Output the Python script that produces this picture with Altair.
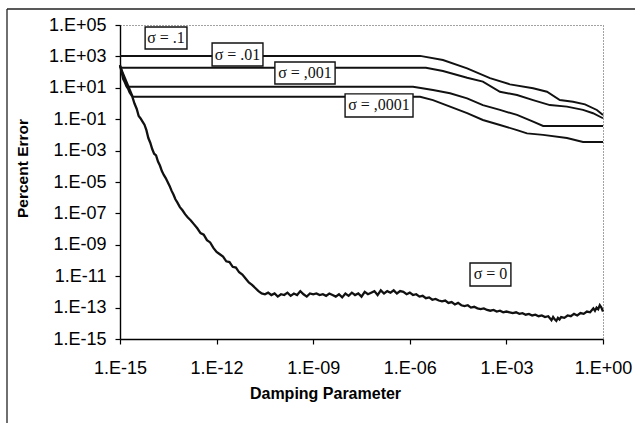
import altair as alt
import pandas as pd

# ---- data: log10(damping parameter) and log10(percent error) ----
s01_x = [-15.0, -5.68, -4.97, -4.22, -3.51, -2.89, -2.17, -1.74, -1.34, -0.93, -0.56, -0.19, 0.0]
s01_y = [3.03, 3.03, 2.77, 2.24, 1.61, 1.22, 0.97, 0.75, 0.22, 0.11, -0.05, -0.41, -0.73]

s001_x = [-15.0, -5.5, -4.97, -4.22, -3.73, -3.2, -2.67, -2.17, -1.65, -1.12, -0.62, -0.31, 0.0]
s001_y = [2.28, 2.28, 2.07, 1.64, 1.39, 0.75, 0.54, 0.22, -0.10, -0.20, -0.41, -0.62, -0.94]

s0001_x = [-15.0, -14.78, -5.9, -5.28, -4.75, -4.22, -3.73, -3.2, -2.67, -2.17, -1.86, 0.0]
s0001_y = [2.4, 1.07, 1.07, 0.86, 0.65, 0.33, -0.10, -0.41, -0.73, -1.16, -1.43, -1.43]

s00001_x = [-15.0, -14.6, -5.68, -5.28, -4.75, -4.22, -3.73, -3.2, -2.67, -2.36, -1.86, -1.12, -0.62, 0.0]
s00001_y = [2.4, 0.43, 0.43, 0.22, -0.20, -0.62, -1.05, -1.37, -1.69, -1.9, -2.0, -2.2, -2.45, -2.45]

s0_x = [-15.00, -14.95, -14.90, -14.85, -14.80, -14.75, -14.70, -14.62, -14.55, -14.48,
        -14.42, -14.36, -14.30, -14.24, -14.18, -14.12, -14.06, -14.00, -13.94, -13.88,
        -13.82, -13.76, -13.70, -13.64, -13.58, -13.52, -13.46, -13.40, -13.34, -13.28,
        -13.22, -13.14, -13.06, -12.98, -12.90, -12.80, -12.70, -12.60, -12.50, -12.40,
        -12.30, -12.20, -12.10, -12.00, -11.90, -11.80, -11.70, -11.60, -11.50, -11.40,
        -11.30, -11.20, -11.10, -11.00, -10.90, -10.80, -10.70, -10.60, -10.50, -10.40,
        -10.30, -10.20, -10.10, -10.00, -9.90, -9.80, -9.70, -9.60, -9.50, -9.40,
        -9.30, -9.20, -9.10, -9.00, -8.90, -8.80, -8.70, -8.60, -8.50, -8.40,
        -8.30, -8.20, -8.10, -8.00, -7.90, -7.80, -7.70, -7.60, -7.50, -7.40,
        -7.30, -7.20, -7.10, -7.00, -6.90, -6.80, -6.70, -6.60, -6.50, -6.40,
        -6.30, -6.20, -6.10, -6.00, -5.90, -5.80, -5.70, -5.60, -5.50, -5.40,
        -5.30, -5.20, -5.10, -5.00, -4.90, -4.80, -4.70, -4.60, -4.50, -4.40,
        -4.30, -4.20, -4.10, -4.00, -3.90, -3.80, -3.70, -3.60, -3.50, -3.40,
        -3.30, -3.20, -3.10, -3.00, -2.90, -2.80, -2.70, -2.60, -2.50, -2.40,
        -2.30, -2.20, -2.10, -2.00, -1.90, -1.80, -1.70, -1.60, -1.55, -1.50,
        -1.45, -1.40, -1.35, -1.30, -1.20, -1.10, -1.00, -0.90, -0.80, -0.70,
        -0.60, -0.50, -0.40, -0.30, -0.25, -0.20, -0.15, -0.10, -0.05, 0.00]
s0_y = [2.45, 2.0, 1.55, 1.35, 1.1, 0.95, 0.7, 0.45, 0.0, -0.35,
        -0.8, -0.95, -1.15, -1.35, -1.7, -2.2, -2.5, -2.9, -3.2, -3.3,
        -3.7, -3.95, -4.3, -4.55, -4.75, -5.0, -5.25, -5.55, -5.8, -6.1,
        -6.3, -6.6, -6.8, -7.05, -7.25, -7.45, -7.7, -7.95, -8.25, -8.35,
        -8.7, -8.85, -9.2, -9.45, -9.6, -9.75, -10.05, -10.1, -10.4, -10.45,
        -10.75, -10.9, -11.15, -11.4, -11.55, -11.75, -11.95, -12.1, -12.15, -12.05,
        -12.2, -12.1, -12.3, -12.15, -12.2, -12.05, -12.25, -12.1, -12.2, -11.95,
        -12.15, -12.3, -12.1, -12.15, -12.1, -12.2, -12.15, -12.25, -12.1, -12.2,
        -12.3, -12.15, -12.35, -12.1, -12.25, -12.05, -12.2, -12.1, -12.3, -12.0,
        -12.15, -12.05, -11.95, -12.2, -11.9, -12.1, -11.95, -12.05, -11.9, -12.1,
        -11.95, -12.0, -12.15, -12.05, -12.2, -12.15, -12.3, -12.25, -12.4, -12.35,
        -12.5, -12.45, -12.55, -12.6, -12.55, -12.7, -12.65, -12.8, -12.7, -12.85,
        -12.9, -12.85, -13.0, -12.95, -13.05, -13.1, -13.05, -13.15, -13.2, -13.15,
        -13.25, -13.2, -13.3, -13.25, -13.3, -13.35, -13.3, -13.4, -13.35, -13.45,
        -13.4, -13.5, -13.45, -13.55, -13.5, -13.6, -13.55, -13.8, -13.6, -13.75,
        -13.85, -13.65, -13.75, -13.6, -13.65, -13.5, -13.55, -13.4, -13.5, -13.35,
        -13.4, -13.25, -13.3, -13.05, -13.2, -13.0, -13.1, -12.85, -13.0, -13.25]

x_ticks = [1e-15, 1e-12, 1e-9, 1e-6, 1e-3, 1e0]
y_ticks = [1e5, 1e3, 1e1, 1e-1, 1e-3, 1e-5, 1e-7, 1e-9, 1e-11, 1e-13, 1e-15]

label_texts = ["σ = .1", "σ = .01", "σ = ,001", "σ = ,0001", "σ = 0"]


def frame(name, xs, ys):
    return pd.DataFrame({
        "series": name,
        "x": [10.0 ** v for v in xs],
        "y": [10.0 ** v for v in ys],
        "i": list(range(len(xs))),
    })


lines = pd.concat([
    frame("0.1", s01_x, s01_y),
    frame("0.01", s001_x, s001_y),
    frame("0.001", s0001_x, s0001_y),
    frame("0.0001", s00001_x, s00001_y),
], ignore_index=True)
zero = frame("0", s0_x, s0_y)

# annotation boxes (log10 positions of box corners)
box_x1 = [-14.22, -12.14, -10.19, -8.01, -4.13]
box_x2 = [-12.92, -10.56, -8.32, -5.90, -2.86]
box_y1 = [4.87, 3.85, 2.64, 0.61, -10.16]
box_y2 = [3.47, 2.39, 1.24, -0.86, -11.62]
ann = pd.DataFrame({
    "text": label_texts,
    "x1": [10.0 ** v for v in box_x1],
    "x2": [10.0 ** v for v in box_x2],
    "y1": [10.0 ** v for v in box_y1],
    "y2": [10.0 ** v for v in box_y2],
    "xc": [10.0 ** ((a + b) / 2) for a, b in zip(box_x1, box_x2)],
    "yc": [10.0 ** ((a + b) / 2) for a, b in zip(box_y1, box_y2)],
})

lab = ("'1.E' + (round(log(datum.value)/LN10) >= 0 ? '+' : '-') + "
       "(abs(round(log(datum.value)/LN10)) < 10 ? '0' : '') + abs(round(log(datum.value)/LN10))")

FONT = "Liberation Sans"

xscale = alt.Scale(type="log", domain=[1e-15, 1], nice=False)
yscale = alt.Scale(type="log", domain=[1e-15, 1e5], nice=False)

xaxis = alt.Axis(values=x_ticks, labelExpr=lab, grid=False, tickSize=5, tickColor="black",
                 tickWidth=1.2, domainColor="black", domainWidth=1.4, labelFont=FONT,
                 labelFontSize=18, labelColor="black", labelPadding=15, labelFlush=False,
                 title="Damping Parameter", titleFont=FONT, titleFontSize=16,
                 titleFontWeight="bold", titleColor="black", titleX=205, titleY=59,
                 titleAlign="center", titleBaseline="alphabetic")
yaxis = alt.Axis(values=y_ticks, labelExpr=lab, grid=False, tickSize=5, tickColor="black",
                 tickWidth=1.2, domainColor="black", domainWidth=1.4, labelFont=FONT,
                 labelFontSize=18, labelColor="black", labelPadding=9, labelFlush=False,
                 title="Percent Error", titleFont=FONT, titleFontSize=15.5,
                 titleFontWeight="bold", titleColor="black", titleX=-98, titleY=143,
                 titleAngle=-90, titleAlign="center", titleBaseline="middle")

base_lines = alt.Chart(lines).mark_line(color="#111", strokeWidth=1.9).encode(
    x=alt.X("x:Q", scale=xscale, axis=xaxis),
    y=alt.Y("y:Q", scale=yscale, axis=yaxis),
    detail="series:N",
    order="i:Q",
)

zero_line = alt.Chart(zero).mark_line(color="#111", strokeWidth=2.3).encode(
    x=alt.X("x:Q", scale=xscale),
    y=alt.Y("y:Q", scale=yscale),
    order="i:Q",
)

boxes = alt.Chart(ann).mark_rect(fill="white", stroke="#111", strokeWidth=1.4).encode(
    x=alt.X("x1:Q", scale=xscale), x2="x2:Q",
    y=alt.Y("y1:Q", scale=yscale), y2="y2:Q",
)

texts = alt.Chart(ann).mark_text(font="Liberation Serif", fontSize=16, color="#111",
                                 align="center", baseline="middle").encode(
    x=alt.X("xc:Q", scale=xscale),
    y=alt.Y("yc:Q", scale=yscale),
    text="text:N",
)

one = alt.Data(values=[{"a": 1}])
frame_left = alt.Chart(one).mark_rule(color="#222", strokeWidth=1.3).encode(
    x=alt.value(-113), y=alt.value(-16), y2=alt.value(398))
frame_top = alt.Chart(one).mark_rule(color="#222", strokeWidth=1.6).encode(
    x=alt.value(-113), x2=alt.value(515), y=alt.value(-16))

chart = alt.layer(base_lines, zero_line, boxes, texts, frame_left, frame_top).properties(
    width=483, height=314,
    autosize=alt.AutoSizeParams(type="none"),
    padding={"left": 120, "top": 25, "right": 32, "bottom": 84},
    background="white",
).configure_view(
    stroke="#444", strokeDash=[1, 2], strokeWidth=1,
)

chart.save("out.html", embed_options={"renderer": "svg", "actions": False})
